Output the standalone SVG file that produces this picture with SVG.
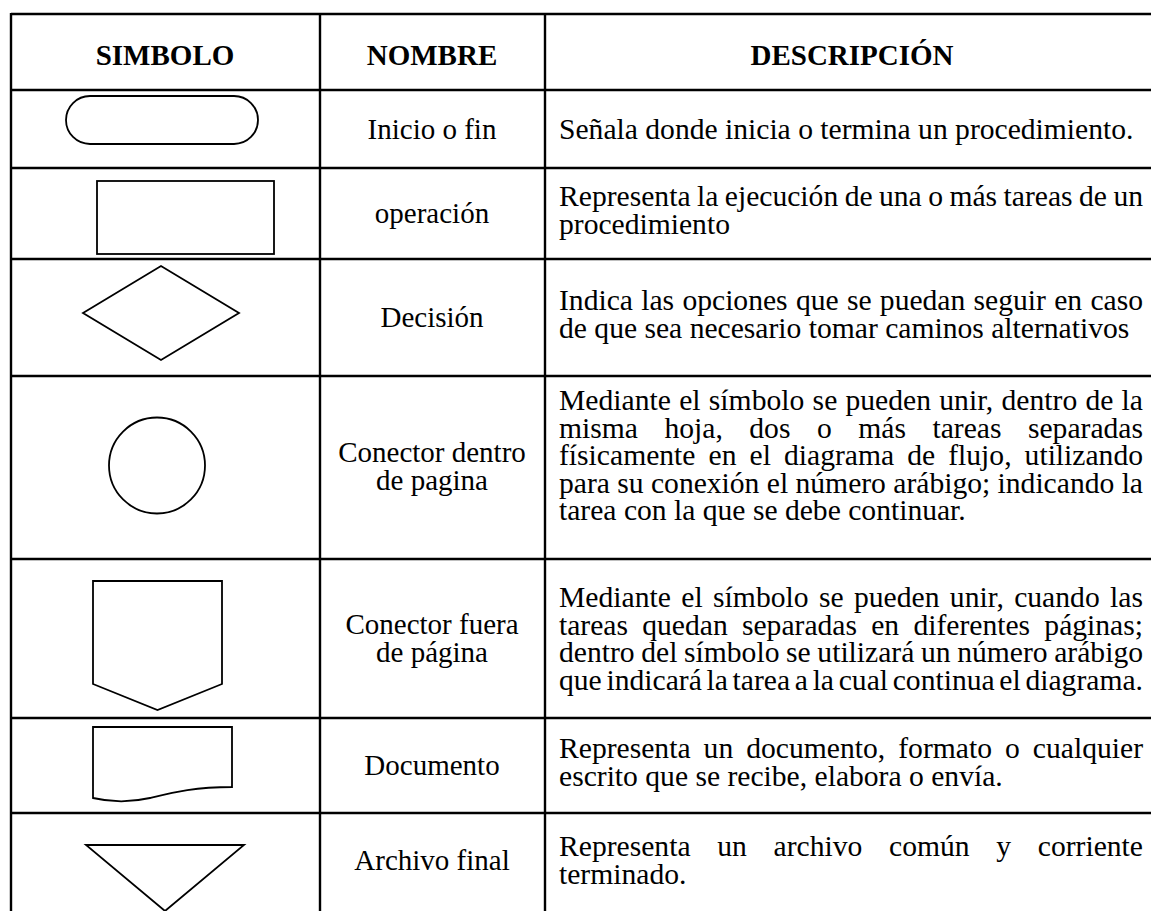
<svg xmlns="http://www.w3.org/2000/svg" width="1151" height="911" viewBox="0 0 1151 911">
<style>
  .grid line { stroke: #000; stroke-width: 2.4; }
  .sym { fill: #fff; stroke: #000; stroke-width: 1.8; stroke-linejoin: miter; }
  text { font-family: "Liberation Serif", "Times New Roman", serif; font-size: 29px; fill: #000; }
  .h { font-weight: bold; text-anchor: middle; }
  .n { text-anchor: middle; }
  .d { font-size: 29.6px; }
</style>
<rect x="0" y="0" width="1151" height="911" fill="#fff"/>
<g id="table-grid" class="grid">
  <line x1="11" y1="14" x2="1151" y2="14"/>
  <line x1="11" y1="90" x2="1151" y2="90"/>
  <line x1="11" y1="168" x2="1151" y2="168"/>
  <line x1="11" y1="259" x2="1151" y2="259"/>
  <line x1="11" y1="376" x2="1151" y2="376"/>
  <line x1="11" y1="559" x2="1151" y2="559"/>
  <line x1="11" y1="718" x2="1151" y2="718"/>
  <line x1="11" y1="813" x2="1151" y2="813"/>
  <line x1="11" y1="13" x2="11" y2="911"/>
  <line x1="320" y1="13" x2="320" y2="911"/>
  <line x1="545" y1="13" x2="545" y2="911"/>
</g>
<g id="header">
  <text class="h" x="165" y="65">SIMBOLO</text>
  <text class="h" x="432" y="65">NOMBRE</text>
  <text class="h" x="852" y="65">DESCRIPCIÓN</text>
</g>
<g id="row-inicio">
  <rect class="sym" x="66" y="96" width="192" height="48" rx="24" ry="24"/>
  <text class="n" x="432" y="138.5">Inicio o fin</text>
  <text class="d" x="559" y="139">Señala donde inicia o termina un procedimiento.</text>
</g>
<g id="row-operacion">
  <rect class="sym" x="97" y="181" width="177" height="73"/>
  <text class="n" x="432" y="222.5">operación</text>
  <text class="d" x="559" y="206" textLength="584" lengthAdjust="spacing" style="word-spacing:-0.97px">Representa la ejecución de una o más tareas de un</text>
  <text class="d" x="559" y="233.5">procedimiento</text>
</g>
<g id="row-decision">
  <polygon class="sym" points="83,313 161,266 239,313 161,360"/>
  <text class="n" x="432" y="326.5">Decisión</text>
  <text class="d" x="559" y="310" textLength="584" lengthAdjust="spacing" style="word-spacing:0.86px">Indica las opciones que se puedan seguir en caso</text>
  <text class="d" x="559" y="337.5">de que sea necesario tomar caminos alternativos</text>
</g>
<g id="row-conector-dentro">
  <circle class="sym" cx="157" cy="465.5" r="48"/>
  <text class="n" x="432" y="462">Conector dentro</text>
  <text class="n" x="432" y="490">de pagina</text>
  <text class="d" x="559" y="410.3" textLength="584" lengthAdjust="spacing" style="word-spacing:0.75px">Mediante el símbolo se pueden unir, dentro de la</text>
  <text class="d" x="559" y="437.8" textLength="584" lengthAdjust="spacing" style="word-spacing:19.1px">misma hoja, dos o más tareas separadas</text>
  <text class="d" x="559" y="465.3" textLength="584" lengthAdjust="spacing" style="word-spacing:5.67px">físicamente en el diagrama de flujo, utilizando</text>
  <text class="d" x="559" y="492.8" textLength="584" lengthAdjust="spacing">para su conexión el número arábigo; indicando la</text>
  <text class="d" x="559" y="520.3">tarea con la que se debe continuar.</text>
</g>
<g id="row-conector-fuera">
  <polygon class="sym" points="93,581 222,581 222,684 157.5,710 93,684"/>
  <text class="n" x="432" y="633.5">Conector fuera</text>
  <text class="n" x="432" y="661.5">de página</text>
  <text class="d" x="559" y="607" textLength="584" lengthAdjust="spacing" style="word-spacing:2.86px">Mediante el símbolo se pueden unir, cuando las</text>
  <text class="d" x="559" y="634.5" textLength="584" lengthAdjust="spacing" style="word-spacing:6.82px">tareas quedan separadas en diferentes páginas;</text>
  <text class="d" x="559" y="662" textLength="584" lengthAdjust="spacing" style="word-spacing:-0.79px">dentro del símbolo se utilizará un número arábigo</text>
  <text class="d" x="559" y="689.5" textLength="584" lengthAdjust="spacing" style="word-spacing:-2.7px">que indicará la tarea a la cual continua el diagrama.</text>
</g>
<g id="row-documento">
  <path class="sym" d="M93,727 H232 V787 C195,787 175,792 150,798 C128,803 110,802 93,798 Z"/>
  <text class="n" x="432" y="774.5">Documento</text>
  <text class="d" x="559" y="758" textLength="584" lengthAdjust="spacing" style="word-spacing:5.66px">Representa un documento, formato o cualquier</text>
  <text class="d" x="559" y="785.5">escrito que se recibe, elabora o envía.</text>
</g>
<g id="row-archivo">
  <polygon class="sym" points="86,845 244,845 165,911"/>
  <text class="n" x="432" y="870">Archivo final</text>
  <text class="d" x="559" y="856" textLength="584" lengthAdjust="spacing" style="word-spacing:19.3px">Representa un archivo común y corriente</text>
  <text class="d" x="559" y="883.5">terminado.</text>
</g>
</svg>
